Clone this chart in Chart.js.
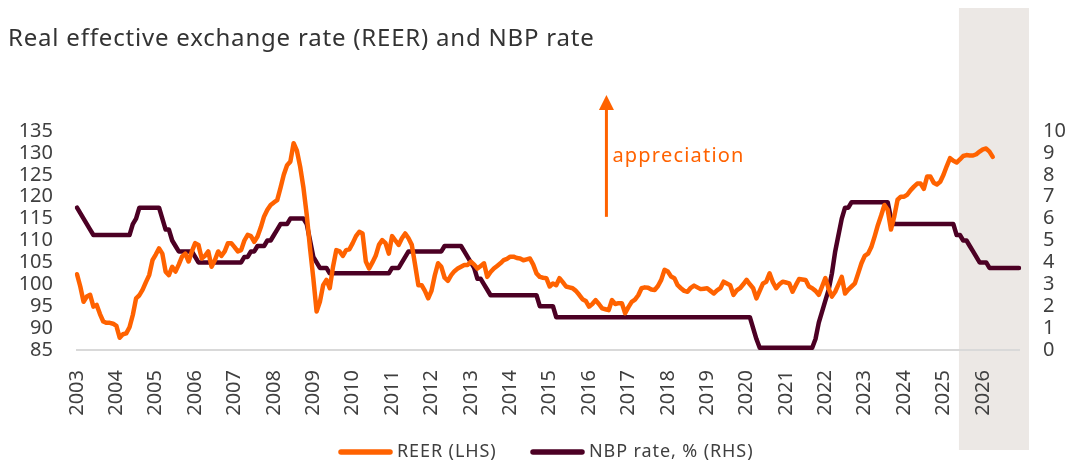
<!DOCTYPE html>
<html>
<head>
<meta charset="utf-8">
<script src="https://cdn.jsdelivr.net/npm/chart.js@4.4.1/dist/chart.umd.min.js"></script>
<style>
html,body{margin:0;padding:0;background:#ffffff;}
canvas{display:block;}
</style>
</head>
<body>
<canvas id="c" width="1091" height="464"></canvas>
<script>
// ---- DATA ----
const years = [2003,2004,2005,2006,2007,2008,2009,2010,2011,2012,2013,2014,2015,2016,2017,2018,2019,2020,2021,2022,2023,2024,2025,2026];
const yearTickLabels = ['2003','2004','2005','2006','2007','2008','2009','2010','2011','2012','2013','2014','2015','2016','2017','2018','2019','2020','2021','2022','2023','2024','2025','2026'];

// Real effective exchange rate, monthly, Jan 2003 - Apr 2026 (LHS)
const reer = [
  102.3, 99.5, 96.0, 97.2, 97.6, 94.9, 95.3, 93.2, 91.5, 91.2, 91.2, 91.0,
  90.5, 87.8, 88.6, 88.8, 90.2, 93.0, 96.8, 97.5, 98.8, 100.5, 102.1, 105.5,
  106.8, 108.2, 107.0, 102.9, 102.1, 104.0, 102.9, 104.5, 106.3, 107.0, 105.2, 107.5,
  109.4, 109.0, 105.9, 106.5, 107.5, 104.0, 105.5, 107.5, 106.5, 107.5, 109.4, 109.4,
  108.5, 107.5, 107.8, 110.0, 111.3, 111.0, 109.7, 110.9, 113.0, 115.5, 117.0, 118.1,
  118.7, 119.2, 122.0, 125.0, 127.2, 128.0, 132.2, 130.5, 126.8, 122.0, 115.8, 108.2,
  101.4, 93.8, 96.0, 99.8, 101.0, 99.1, 104.0, 107.8, 107.5, 106.5, 107.8, 108.0,
  109.4, 111.0, 112.0, 111.6, 105.2, 103.6, 105.0, 106.5, 109.0, 110.1, 109.4, 107.0,
  111.0, 110.0, 109.0, 110.5, 111.6, 110.5, 109.0, 104.5, 99.8, 99.8, 98.5, 96.8,
  98.5, 102.0, 104.8, 104.0, 101.5, 100.8, 102.1, 103.0, 103.6, 104.0, 104.4, 104.4,
  105.2, 104.5, 103.6, 104.2, 104.8, 101.7, 102.8, 103.6, 104.2, 104.8, 105.5, 105.8,
  106.3, 106.3, 106.0, 105.9, 105.5, 105.7, 105.9, 104.5, 102.5, 101.7, 101.5, 101.4,
  99.5, 100.2, 99.8, 101.4, 100.5, 99.5, 99.3, 99.1, 98.5, 97.6, 96.6, 96.2,
  94.9, 95.5, 96.4, 95.5, 94.5, 94.3, 94.1, 96.4, 95.5, 95.7, 95.7, 93.4,
  94.8, 96.0, 96.5, 97.5, 99.1, 99.3, 99.2, 98.8, 98.7, 99.6, 101.0, 103.3,
  102.9, 101.8, 101.4, 99.8, 99.1, 98.5, 98.3, 99.2, 99.7, 99.3, 98.9, 99.0,
  99.1, 98.5, 97.9, 98.6, 99.1, 100.6, 100.2, 99.8, 97.6, 98.6, 99.1, 100.0,
  101.0, 100.0, 99.1, 96.8, 98.5, 100.2, 100.6, 102.5, 100.5, 99.1, 100.0, 100.6,
  100.4, 100.2, 98.3, 99.8, 101.2, 101.1, 101.0, 99.5, 99.1, 98.5, 97.6, 99.5,
  101.4, 99.0, 97.2, 98.3, 100.0, 101.7, 97.9, 98.8, 99.5, 100.2, 102.5, 104.8,
  106.5, 107.0, 108.5, 110.9, 113.5, 115.7, 118.1, 117.0, 112.5, 115.5, 119.3, 120.0,
  120.0, 120.5, 121.5, 122.3, 123.0, 123.0, 121.8, 124.6, 124.6, 123.2, 122.8, 123.4,
  125.0, 127.0, 128.8, 128.2, 127.8, 128.5, 129.3, 129.5, 129.4, 129.4, 129.7, 130.3,
  130.8, 131.0, 130.3, 129.1
];

// NBP reference rate, %, end of month, Jan 2003 - Dec 2026 (RHS)
const nbpRate = [
  6.5, 6.25, 6.0, 5.75, 5.5, 5.25, 5.25, 5.25, 5.25, 5.25, 5.25, 5.25,
  5.25, 5.25, 5.25, 5.25, 5.25, 5.75, 6.0, 6.5, 6.5, 6.5, 6.5, 6.5,
  6.5, 6.5, 6.0, 5.5, 5.5, 5.0, 4.75, 4.5, 4.5, 4.5, 4.5, 4.5,
  4.25, 4.0, 4.0, 4.0, 4.0, 4.0, 4.0, 4.0, 4.0, 4.0, 4.0, 4.0,
  4.0, 4.0, 4.0, 4.25, 4.25, 4.5, 4.5, 4.75, 4.75, 4.75, 5.0, 5.0,
  5.25, 5.5, 5.75, 5.75, 5.75, 6.0, 6.0, 6.0, 6.0, 6.0, 5.75, 5.0,
  4.25, 4.0, 3.75, 3.75, 3.75, 3.5, 3.5, 3.5, 3.5, 3.5, 3.5, 3.5,
  3.5, 3.5, 3.5, 3.5, 3.5, 3.5, 3.5, 3.5, 3.5, 3.5, 3.5, 3.5,
  3.75, 3.75, 3.75, 4.0, 4.25, 4.5, 4.5, 4.5, 4.5, 4.5, 4.5, 4.5,
  4.5, 4.5, 4.5, 4.5, 4.75, 4.75, 4.75, 4.75, 4.75, 4.75, 4.5, 4.25,
  4.0, 3.75, 3.25, 3.25, 3.0, 2.75, 2.5, 2.5, 2.5, 2.5, 2.5, 2.5,
  2.5, 2.5, 2.5, 2.5, 2.5, 2.5, 2.5, 2.5, 2.5, 2.0, 2.0, 2.0,
  2.0, 2.0, 1.5, 1.5, 1.5, 1.5, 1.5, 1.5, 1.5, 1.5, 1.5, 1.5,
  1.5, 1.5, 1.5, 1.5, 1.5, 1.5, 1.5, 1.5, 1.5, 1.5, 1.5, 1.5,
  1.5, 1.5, 1.5, 1.5, 1.5, 1.5, 1.5, 1.5, 1.5, 1.5, 1.5, 1.5,
  1.5, 1.5, 1.5, 1.5, 1.5, 1.5, 1.5, 1.5, 1.5, 1.5, 1.5, 1.5,
  1.5, 1.5, 1.5, 1.5, 1.5, 1.5, 1.5, 1.5, 1.5, 1.5, 1.5, 1.5,
  1.5, 1.5, 1.0, 0.5, 0.1, 0.1, 0.1, 0.1, 0.1, 0.1, 0.1, 0.1,
  0.1, 0.1, 0.1, 0.1, 0.1, 0.1, 0.1, 0.1, 0.1, 0.5, 1.25, 1.75,
  2.25, 2.75, 3.5, 4.5, 5.25, 6.0, 6.5, 6.5, 6.75, 6.75, 6.75, 6.75,
  6.75, 6.75, 6.75, 6.75, 6.75, 6.75, 6.75, 6.75, 6.0, 5.75, 5.75, 5.75,
  5.75, 5.75, 5.75, 5.75, 5.75, 5.75, 5.75, 5.75, 5.75, 5.75, 5.75, 5.75,
  5.75, 5.75, 5.75, 5.75, 5.25, 5.25, 5.0, 5.0, 4.75, 4.5, 4.25, 4.0,
  4.0, 4.0, 3.75, 3.75, 3.75, 3.75, 3.75, 3.75, 3.75, 3.75, 3.75, 3.75
];

const seriesNames = ['REER (LHS)', 'NBP rate, % (RHS)'];
const titleText = 'Real effective exchange rate (REER) and NBP rate';
const annotationText = 'appreciation';
const forecastStart = 268.7; // month index where shaded (forecast) area starts

// ---- BUILD ----
const months = [];
years.forEach(y => { for (let m = 1; m <= 12; m++) months.push(y + '-' + String(m).padStart(2, '0')); });

const ORANGE = '#FF6200';
const MAROON = '#4C0024';
const FONT = "'Noto Sans', 'DejaVu Sans', sans-serif";
const TEXT = '#3f3f3f';

const decorPlugin = {
  id: 'decor',
  beforeDraw(chart) {
    const ctx = chart.ctx;
    const x = chart.scales.x;
    const ca = chart.chartArea;
    const x0 = x.getPixelForValue(forecastStart);
    ctx.save();
    ctx.fillStyle = '#ECE8E5';
    ctx.fillRect(x0, 8, ca.right + 10 - x0, 442);
    ctx.restore();
  },
  afterDraw(chart) {
    const ctx = chart.ctx;
    const x = chart.scales.x;
    const yL = chart.scales.yL;
    ctx.save();
    // title
    ctx.fillStyle = '#333333';
    ctx.font = "24px " + FONT;
    ctx.letterSpacing = '0.8px';
    ctx.textBaseline = 'alphabetic';
    ctx.textAlign = 'left';
    ctx.fillText(titleText, 8, 46);

    // appreciation arrow (anchored to scales)
    const ax = x.getPixelForValue(161.3);
    const yBot = yL.getPixelForValue(115.4);
    const yTip = yL.getPixelForValue(143.2);
    ctx.strokeStyle = ORANGE;
    ctx.fillStyle = ORANGE;
    ctx.lineWidth = 3;
    ctx.beginPath();
    ctx.moveTo(ax, yBot);
    ctx.lineTo(ax, yTip + 12);
    ctx.stroke();
    ctx.beginPath();
    ctx.moveTo(ax, yTip);
    ctx.lineTo(ax - 7.5, yTip + 15);
    ctx.lineTo(ax + 7.5, yTip + 15);
    ctx.closePath();
    ctx.fill();
    ctx.font = "20px " + FONT;
    ctx.letterSpacing = '1.2px';
    ctx.fillText(annotationText, ax + 6, 162);

    // legend
    const items = chart.data.datasets;
    const pos = [338, 530];
    ctx.font = "18px " + FONT;
    ctx.letterSpacing = '0.9px';
    ctx.lineCap = 'round';
    items.forEach((ds, i) => {
      ctx.strokeStyle = ds.borderColor;
      ctx.lineWidth = 5.5;
      ctx.beginPath();
      ctx.moveTo(pos[i] + 3, 452);
      ctx.lineTo(pos[i] + 52, 452);
      ctx.stroke();
      ctx.fillStyle = TEXT;
      ctx.textBaseline = 'middle';
      ctx.fillText(ds.label, pos[i] + 59, 452);
    });
    ctx.restore();
  }
};

const tickFont = { family: FONT, size: 20, lineHeight: 1.0 };

new Chart(document.getElementById('c'), {
  type: 'line',
  data: {
    labels: months,
    datasets: [
      { label: seriesNames[0], data: reer, yAxisID: 'yL', borderColor: ORANGE, backgroundColor: ORANGE,
        borderWidth: 4.5, pointRadius: 0, tension: 0, borderJoinStyle: 'round', borderCapStyle: 'round' },
      { label: seriesNames[1], data: nbpRate, yAxisID: 'yR', borderColor: MAROON, backgroundColor: MAROON,
        borderWidth: 4.5, pointRadius: 0, tension: 0, borderJoinStyle: 'round', borderCapStyle: 'round' }
    ]
  },
  options: {
    responsive: false,
    animation: false,
    events: [],
    layout: { padding: { top: 131, left: 0, right: 0, bottom: 0 } },
    plugins: { legend: { display: false }, title: { display: false }, tooltip: { enabled: false } },
    scales: {
      x: {
        type: 'category',
        offset: false,
        grid: { display: false, drawTicks: false },
        border: { display: true, color: '#D9D9D9', width: 2 },
        ticks: {
          autoSkip: false, maxRotation: 90, minRotation: 90, padding: 20,
          color: TEXT, font: tickFont,
          callback: (v, i) => (i % 12 === 0 ? yearTickLabels[i / 12] : '')
        },
        afterFit: s => { s.height = 114; }
      },
      yL: {
        position: 'left', min: 85, max: 135,
        grid: { display: false, drawTicks: false },
        border: { display: false },
        ticks: { stepSize: 5, autoSkip: false, maxTicksLimit: 20, padding: 24, color: TEXT, font: tickFont },
        afterFit: s => { s.width = 77; }
      },
      yR: {
        position: 'right', min: 0, max: 10,
        grid: { display: false, drawTicks: false },
        border: { display: false },
        ticks: { stepSize: 1, autoSkip: false, maxTicksLimit: 20, padding: 24, color: TEXT, font: tickFont },
        afterFit: s => { s.width = 72; }
      }
    }
  },
  plugins: [decorPlugin]
});
</script>
</body>
</html>
